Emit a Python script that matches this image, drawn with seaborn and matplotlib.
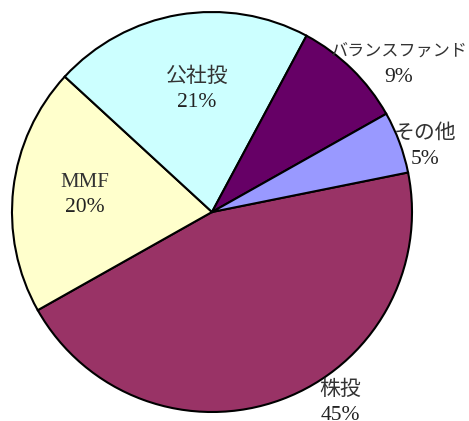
import matplotlib.pyplot as plt
import numpy as np
import seaborn as sns

labels = ["株投", "MMF", "公社投", "バランスファンド", "その他"]
shares = [45, 20, 21, 9, 5]
colors = ["#993366", "#FFFFCC", "#CCFFFF", "#660066", "#9999FF"]

# label anchor (radius, angle offset in degrees) relative to each wedge's middle
label_pos = [(1.15, 13.4), (0.64, -1), (0.615, -2.6), (1.19, -7.4), (1.113, -3.4)]
name_size = [15, 15, 15, 12.3, 15]

sns.set_style("white")
plt.rcParams["font.family"] = ["Liberation Serif", "Noto Sans CJK JP"]

fig = plt.figure(figsize=(4.69, 4.21), dpi=100)
ax = fig.add_axes([12 / 469, 9 / 421, 400 / 469, 400 / 421])

wedges, _ = ax.pie(
    shares,
    colors=colors,
    startangle=11.4,
    counterclock=False,
    wedgeprops={"edgecolor": "black", "linewidth": 1.5},
)

half = 12.5 / 200  # half the gap between the two label lines
for w, lab, val, (r, off), fs in zip(wedges, labels, shares, label_pos, name_size):
    mid = np.deg2rad((w.theta1 + w.theta2) / 2 + off)
    x, y = r * np.cos(mid), r * np.sin(mid)
    ax.text(x, y + half, lab, ha="center", va="center", fontsize=fs,
            color="#333333", clip_on=False)
    ax.text(x, y - half, f"{val}%", ha="center", va="center", fontsize=15.5,
            color="#222222", clip_on=False)

ax.set_xlim(-1, 1)
ax.set_ylim(-1, 1)
ax.set_aspect("equal")
ax.axis("off")

fig.savefig("out.png", dpi=100)
